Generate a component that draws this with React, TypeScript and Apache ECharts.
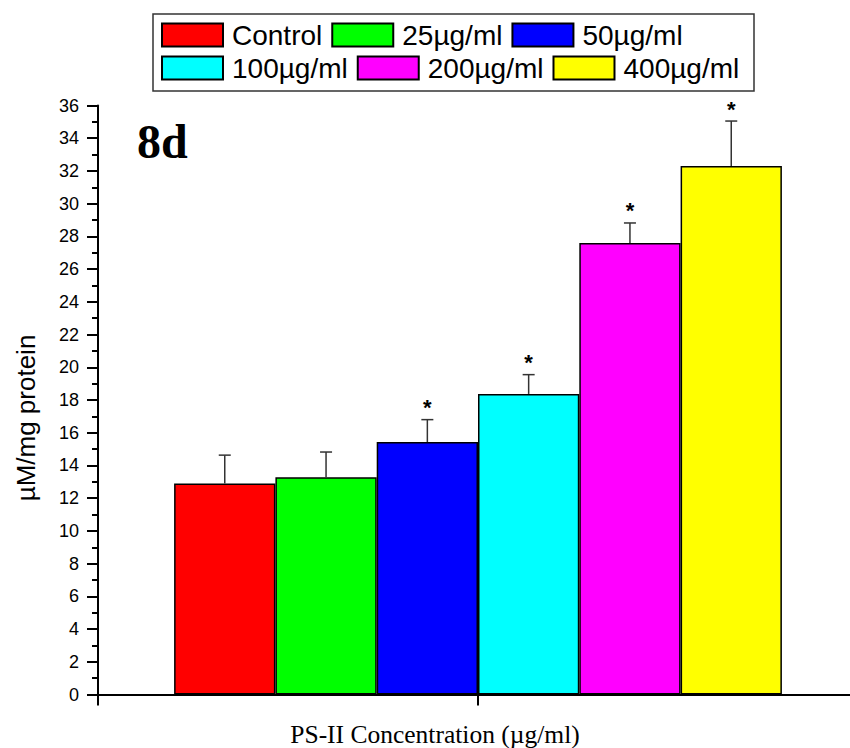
import React, { useEffect, useRef } from "react";
import * as echarts from "echarts";

const groups = ["Control", "25µg/ml", "50µg/ml", "100µg/ml", "200µg/ml", "400µg/ml"];
const means = [12.9, 13.28, 15.43, 18.37, 27.6, 32.3];
const errors = [1.73, 1.54, 1.37, 1.18, 1.22, 2.75];
const significant = [false, false, true, true, true, true];
const colors = ["#FF0000", "#00FF00", "#0000FF", "#00FFFF", "#FF00FF", "#FFFF00"];
const yTicks = { min: 0, max: 36, interval: 2 };
const panelLabel = "8d";
const xTitle = "PS-II Concentration (µg/ml)";
const yTitle = "µM/mg protein";

const BAR_W = 101.3;
const SANS = "'Liberation Sans', Arial, sans-serif";
const SERIF = "'Liberation Serif', 'Times New Roman', serif";

export default function App() {
  const ref = useRef<HTMLDivElement>(null);
  useEffect(() => {
    if (!ref.current) return;
    const chart = echarts.init(ref.current, undefined, { renderer: "svg" });
    const barSeries = groups.map((g, i) => ({
      name: g,
      type: "bar",
      data: [[1, means[i]]],
      barWidth: BAR_W,
      barGap: 0,
      itemStyle: { color: colors[i], borderColor: "#000", borderWidth: 1.5 },
      z: 2,
    }));
    const errData = groups.map((_, i) => [1, means[i], errors[i], i, significant[i] ? 1 : 0]);
    const errSeries = {
      type: "custom",
      z: 5,
      silent: true,
      data: errData,
      encode: { x: 0, y: 1 },
      renderItem: (params: any, api: any) => {
        const x = api.value(0);
        const m = api.value(1);
        const sd = api.value(2);
        const idx = api.value(3);
        const star = api.value(4);
        const off = (idx - 2.5) * BAR_W;
        const p0 = api.coord([x, m]);
        const p1 = api.coord([x, m + sd]);
        const cx = p0[0] + off;
        const lineStyle = { stroke: "#333", lineWidth: 1.5 };
        const children: any[] = [
          { type: "line", shape: { x1: cx, y1: p0[1], x2: cx, y2: p1[1] }, style: lineStyle },
          { type: "line", shape: { x1: cx - 6, y1: p1[1], x2: cx + 6, y2: p1[1] }, style: lineStyle },
        ];
        if (star) {
          children.push({
            type: "text",
            style: {
              text: "*",
              x: cx,
              y: p1[1] - 12,
              align: "center",
              verticalAlign: "middle",
              font: `bold 22px ${SANS}`,
              fill: "#000",
            },
          });
        }
        return { type: "group", children };
      },
    };
    const legendCommon = {
      icon: "rect",
      itemWidth: 61,
      itemHeight: 23,
      itemGap: 9,
      padding: 0,
      selectedMode: false,
      textStyle: { fontSize: 28, fontFamily: SANS, color: "#000", padding: [0, 0, 0, 4], lineHeight: 28 },
    };
    chart.setOption({
      animation: false,
      backgroundColor: "#fff",
      legend: [
        { ...legendCommon, data: groups.slice(0, 3), left: 161, top: 21 },
        { ...legendCommon, data: groups.slice(3), left: 161, top: 54 },
      ],
      grid: { left: 98, right: 0, top: 105.5, bottom: 53.5, containLabel: false },
      xAxis: {
        type: "value",
        min: 0,
        max: 2,
        interval: 1,
        axisLine: { show: true, onZero: false, lineStyle: { color: "#000", width: 2 } },
        axisTick: { show: true, length: 11, lineStyle: { color: "#000", width: 2 } },
        axisLabel: { show: false },
        splitLine: { show: false },
      },
      yAxis: {
        type: "value",
        min: yTicks.min,
        max: yTicks.max,
        interval: yTicks.interval,
        axisLine: { show: true, lineStyle: { color: "#000", width: 2 } },
        axisTick: { show: true, length: 11, lineStyle: { color: "#000", width: 2 } },
        minorTick: { show: true, splitNumber: 2, length: 6, lineStyle: { color: "#000", width: 2 } },
        axisLabel: { fontSize: 18, fontFamily: SANS, color: "#000", margin: 19 },
        splitLine: { show: false },
      },
      graphic: [
        {
          type: "rect",
          shape: { x: 153, y: 14, width: 601, height: 77 },
          style: { fill: "none", stroke: "#333", lineWidth: 1.5 },
          z: 0,
        },
        {
          type: "text",
          x: 137,
          y: 141,
          style: { text: panelLabel, font: `bold 48px ${SERIF}`, fill: "#000", align: "left", verticalAlign: "middle" },
        },
        {
          type: "text",
          x: 435,
          y: 734,
          style: { text: xTitle, font: `25.5px ${SERIF}`, fill: "#000", align: "center", verticalAlign: "middle" },
        },
        {
          type: "text",
          x: 26,
          y: 418,
          rotation: Math.PI / 2,
          style: { text: yTitle, font: `26px ${SANS}`, fill: "#000", align: "center", verticalAlign: "middle" },
        },
      ],
      series: [...barSeries, errSeries],
    });
    return () => chart.dispose();
  }, []);
  return (
    <div style={{ position: "absolute", left: 0, top: 0, width: 850, height: 748, overflow: "hidden", background: "#fff" }}>
      <div ref={ref} style={{ width: 858, height: 748 }} />
    </div>
  );
}
